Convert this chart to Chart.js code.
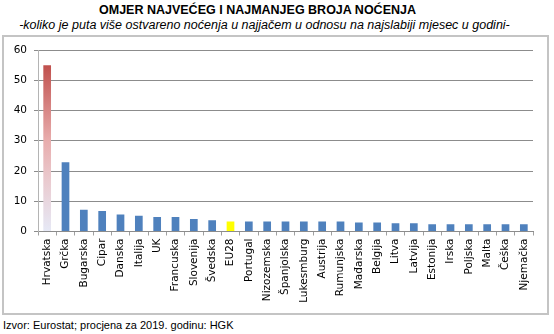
<!DOCTYPE html>
<html>
<head>
<meta charset="utf-8">
<title>Omjer najvećeg i najmanjeg broja noćenja</title>
<script src="https://cdn.jsdelivr.net/npm/chart.js@4/dist/chart.umd.min.js"></script>
<style>
    html, body { margin: 0; padding: 0; background: #fff; }
    body { width: 554px; height: 334px; position: relative; overflow: hidden; font-family: "Liberation Sans", Arial, sans-serif; }
    .naslov { position: absolute; left: 0; width: 515px; top: 3px; text-align: center; font-weight: bold; font-size: 12.5px; color: #000; }
    .podnaslov { position: absolute; left: 0; width: 529px; top: 18px; text-align: center; font-style: italic; font-size: 12.5px; color: #000; }
    .okvir { position: absolute; left: 2px; top: 35px; width: 543px; height: 276px; border: 2px solid #c4c4c4; }
    .izvor { position: absolute; left: 3px; top: 319px; font-size: 11px; color: #000; }
    #chartCanvas { position: absolute; left: 0; top: 0; }
</style>
</head>
<body>
<div class="naslov">OMJER NAJVEĆEG I NAJMANJEG BROJA NOĆENJA</div>
<div class="podnaslov">-koliko je puta više ostvareno noćenja u najjačem u odnosu na najslabiji mjesec u godini-</div>
<div class="okvir"></div>
<div class="izvor">Izvor: Eurostat; procjena za 2019. godinu: HGK</div>
<canvas id="chartCanvas" width="554" height="334"></canvas>

<script>
// zemlje (EU28 prosjek među njima)
const zemlje = ['Hrvatska', 'Grčka', 'Bugarska', 'Cipar', 'Danska', 'Italija', 'UK', 'Francuska',
    'Slovenija', 'Švedska', 'EU28', 'Portugal', 'Nizozemska', 'Španjolska', 'Lukesmburg', 'Austrija',
    'Rumunjska', 'Mađarska', 'Belgija', 'Litva', 'Latvija', 'Estonija', 'Irska', 'Poljska',
    'Malta', 'Češka', 'Njemačka'];

// omjer najjačeg i najslabijeg mjeseca
const omjer = [55, 22.9, 7.2, 6.8, 5.6, 5.2, 4.8, 4.8,
    4.1, 3.7, 3.3, 3.3, 3.3, 3.3, 3.3, 3.3,
    3.3, 3.0, 3.0, 2.7, 2.7, 2.4, 2.4, 2.4,
    2.4, 2.4, 2.4];

const yTicks = [0, 10, 20, 30, 40, 50, 60];

const plava = '#4f81bd';
const zuta = '#ffff00';

// Hrvatska ide s prijelazom od crvene prema blijedoj
function bojaStupca(ctx) {
    const naziv = zemlje[ctx.dataIndex];
    if (naziv === 'EU28') return zuta;
    if (naziv !== 'Hrvatska') return plava;
    const chart = ctx.chart;
    const y = chart.scales.y;
    if (!y || !chart.chartArea) return '#c0504d';
    const vrh = y.getPixelForValue(omjer[ctx.dataIndex]);
    const dno = y.getPixelForValue(0);
    const g = chart.ctx.createLinearGradient(0, vrh, 0, dno);
    g.addColorStop(0, '#c0504d');
    g.addColorStop(0.45, '#e8acac');
    g.addColorStop(0.7, '#eacbd0');
    g.addColorStop(1, '#e6e9f6');
    return g;
}

const fontOsi = { family: '"DejaVu Sans", Verdana, sans-serif', size: 10.5 };

new Chart(document.getElementById('chartCanvas').getContext('2d'), {
    type: 'bar',
    data: {
        labels: zemlje,
        datasets: [{
            data: omjer,
            backgroundColor: bojaStupca,
            borderWidth: 0,
            barPercentage: 0.42,
            categoryPercentage: 1
        }]
    },
    options: {
        responsive: false,
        animation: false,
        events: [],
        layout: { padding: { left: 0, top: 50, right: 21, bottom: 0 } },
        plugins: {
            legend: { display: false },
            tooltip: { enabled: false }
        },
        scales: {
            x: {
                grid: { drawOnChartArea: false, drawTicks: true, tickLength: 4, color: '#a0a0a0', offset: true },
                border: { color: '#8c8c8c' },
                ticks: { minRotation: 90, maxRotation: 90, autoSkip: false, padding: 3, color: '#000', font: fontOsi },
                afterFit: (s) => { s.height = 102.5; }
            },
            y: {
                min: 0,
                max: 60,
                afterBuildTicks: (s) => { s.ticks = yTicks.map(v => ({ value: v })); },
                grid: { color: '#8c8c8c', tickLength: 4 },
                border: { color: '#b4b4b4' },
                ticks: { padding: 7, color: '#000', font: fontOsi },
                afterFit: (s) => { s.width = 38; }
            }
        }
    }
});
</script>
</body>
</html>
